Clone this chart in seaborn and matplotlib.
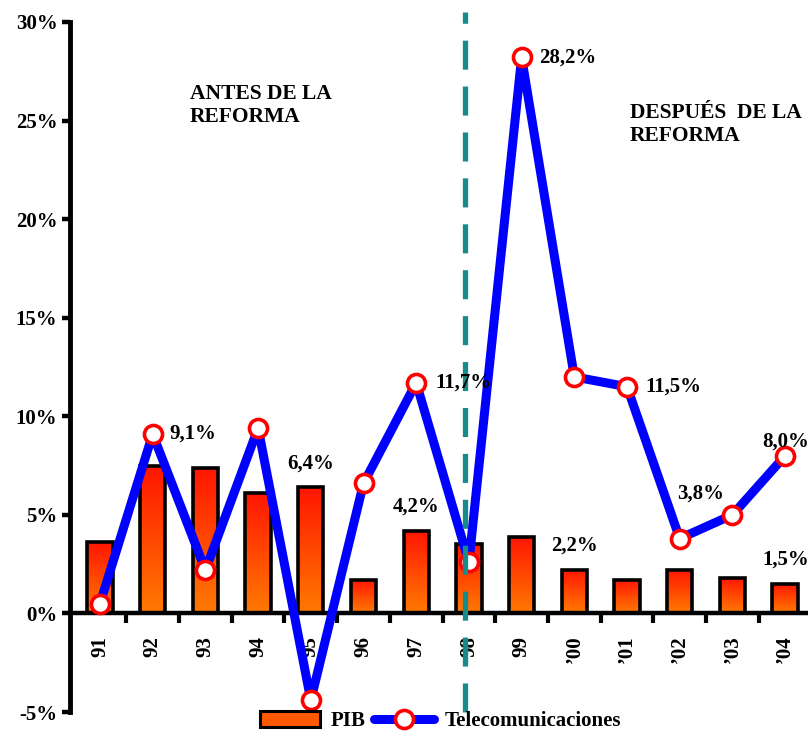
import numpy as np
import matplotlib
matplotlib.use("Agg")
import matplotlib.pyplot as plt
import seaborn as sns
from matplotlib.colors import LinearSegmentedColormap
from matplotlib.lines import Line2D
from matplotlib.patches import Rectangle

# Annual growth rates (%)
years = ["91", "92", "93", "94", "95", "96", "97", "98", "99",
         "\u201900", "\u201901", "\u201902", "\u201903", "\u201904"]
pib = [3.6, 7.5, 7.4, 6.1, 6.4, 1.7, 4.2, 3.5, 3.9, 2.2, 1.7, 2.2, 1.8, 1.5]
telecom = [0.5, 9.1, 2.2, 9.4, -4.4, 6.6, 11.7, 2.6, 28.2, 12.0, 11.5, 3.8, 5.0, 8.0]
y_ticks = [-5, 0, 5, 10, 15, 20, 25, 30]

# which values get a printed label, with (dx, dy) pixel offsets and alignment
pib_labels = {4: (0, 24, "center"), 6: (0, 24, "center"),
              9: (0, 24, "center"), 13: (-23, 24, "left")}
tel_labels = {1: (17, 0, "left"), 6: (19, 0, "left"), 8: (18, 0, "left"),
              10: (18, 0, "left"), 11: (21, 45, "center"), 13: (-23, 14, "left")}

sns.set_style("white")
plt.rcParams["font.family"] = ["Liberation Serif", "DejaVu Serif"]
plt.rcParams["font.weight"] = "bold"
for key in ("text.color", "axes.labelcolor", "xtick.color", "ytick.color", "axes.edgecolor"):
    plt.rcParams[key] = "black"

FS = 15
fig = plt.figure(figsize=(8.08, 7.33), dpi=100)
ax = fig.add_axes([0.0866, 0.0286, 0.9177, 0.9414])

x = np.arange(len(years))
sns.barplot(x=years, y=pib, ax=ax, width=0.48, color="#ff4000",
            edgecolor="black", linewidth=2.6, saturation=1, zorder=2)

# vertical red-to-orange fill inside each bar
grad = LinearSegmentedColormap.from_list("pib", ["#ff7a00", "#ff1500"])
gimg = np.linspace(0, 1, 128).reshape(-1, 1)
for p in list(ax.patches):
    p.set_facecolor("none")
    x0, w, h = p.get_x(), p.get_width(), p.get_height()
    im = ax.imshow(gimg, cmap=grad, origin="lower", aspect="auto",
                   extent=(x0, x0 + w, 0, h), zorder=1.9, interpolation="bilinear")
    im.set_clip_path(p)

sns.lineplot(x=x, y=telecom, ax=ax, color="#0000ff", linewidth=6.5,
             marker="o", markersize=13, markerfacecolor="white",
             markeredgecolor="#ff0000", markeredgewidth=2.6, zorder=4)

ax.set_xlim(-0.57, 13.5)
ax.set_ylim(-5, 30)

# reform separator
ax.plot([6.93, 6.93], [0, 1.015], transform=ax.get_xaxis_transform(),
        color="#178a8a", linewidth=3.8, dashes=(5.5, 3.2), clip_on=False, zorder=6)

# value labels
fmt = lambda v: f"{v:.1f}%".replace(".", ",")
for i, (dx, dy, ha) in pib_labels.items():
    ax.annotate(fmt(pib[i]), (i, pib[i]), xytext=(dx, dy), textcoords="offset pixels",
                ha=ha, va="center", fontsize=FS, fontweight="bold", zorder=7,
                annotation_clip=False)
for i, (dx, dy, ha) in tel_labels.items():
    ax.annotate(fmt(telecom[i]), (i, telecom[i]), xytext=(dx, dy), textcoords="offset pixels",
                ha=ha, va="center", fontsize=FS, fontweight="bold", zorder=7,
                annotation_clip=False)

ax.text(1.71, 26.85, "ANTES DE LA\nREFORMA", fontsize=15.5, fontweight="bold",
        va="top", ha="left", linespacing=1.2)
ax.text(10.06, 25.9, "DESPUÉS  DE LA\nREFORMA", fontsize=15.5, fontweight="bold",
        va="top", ha="left", linespacing=1.2)

# axes styling
for s in ("top", "right"):
    ax.spines[s].set_visible(False)
ax.spines["left"].set_linewidth(3.5)
ax.spines["bottom"].set_linewidth(3.2)
ax.spines["bottom"].set_position(("data", 0))
ax.spines["bottom"].set_zorder(3)

ax.set_yticks(y_ticks)
ax.set_yticklabels([f"{v}%" for v in y_ticks])
ax.tick_params(axis="y", direction="out", length=6, width=3.2, pad=3,
               labelsize=FS, left=True)
ax.set_xticks(x)
ax.set_xticklabels(years, rotation=90)
ax.tick_params(axis="x", which="major", length=0, pad=16, labelsize=FS, bottom=False)
ax.set_xticks(x[:-1] + 0.5, minor=True)
ax.tick_params(axis="x", which="minor", direction="out", length=7, width=3, bottom=True)
for lab in ax.get_xticklabels() + ax.get_yticklabels():
    lab.set_fontweight("bold")

# legend
h_pib = Rectangle((0, 0), 1, 1, facecolor="#ff5a00", edgecolor="black", linewidth=2.2)
h_tel = Line2D([], [], color="#0000ff", linewidth=6.5, marker="o", markersize=13,
               markerfacecolor="white", markeredgecolor="#ff0000", markeredgewidth=2.6)
fig.legend([h_pib, h_tel], ["PIB", "Telecomunicaciones"], loc="center",
           bbox_to_anchor=(0.545, 0.016), ncol=2, frameon=False,
           prop={"size": FS, "weight": "bold"}, handlelength=2.9, handleheight=0.8,
           handletextpad=0.5, columnspacing=0.4, borderpad=0.1)

fig.savefig("out.png", dpi=100)
